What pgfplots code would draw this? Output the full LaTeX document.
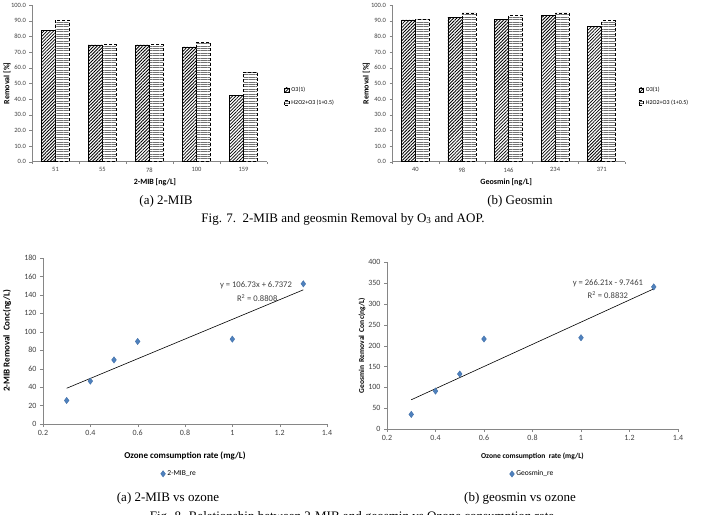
\documentclass[border=0pt]{standalone}
\usepackage{fontspec}
\setmainfont{Liberation Serif}
\newfontfamily\calfont{Carlito}
\usepackage{pgfplots}
\pgfplotsset{compat=1.18}
\usetikzlibrary{patterns.meta}

\definecolor{axisgray}{HTML}{868686}
\definecolor{ticktext}{HTML}{404040}
\definecolor{markblue}{HTML}{4F81BD}
\definecolor{markedge}{HTML}{3C6BA5}

\pgfplotsset{
  barchart/.style={
    scale only axis, width=235pt, height=156.7pt,
    axis lines=left, axis line style={axisgray,-},
    tick style={axisgray}, tick align=outside, major tick length=2.5pt,
    ymin=0, ymax=100, ytick={0,10,...,100},
    xmin=-0.5, xmax=4.5, xtick={-0.5,0.5,...,4.5},
    x tick label as interval,
    ybar=0pt, bar width=14pt,
    /pgf/number format/assume math mode=true,
    tick label style={font=\calfont\fontsize{6.5}{7}\selectfont, text=ticktext},
    yticklabel style={/pgf/number format/.cd, fixed, fixed zerofill, precision=1},
    label style={font=\calfont\bfseries\fontsize{8}{9}\selectfont},
    ylabel style={at={(axis description cs:-0.106,0.5)}, anchor=center},
    legend style={draw=none, fill=none, anchor=west,
      font=\calfont\fontsize{6}{7}\selectfont, row sep=3pt,
      legend cell align=left},
    legend image code/.code={\draw[#1] (0pt,-2.3pt) rectangle (4.6pt,2.3pt);},
  },
  othree/.style={draw=black, line width=0.5pt,
    pattern={Lines[angle=45,distance=2.3pt,line width=0.8pt]}, pattern color=black},
  aop/.style={draw=black, densely dashed, line width=0.6pt,
    pattern={Lines[angle=0,distance=2.4pt,line width=0.9pt]}, pattern color=black!55},
  scatterchart/.style={
    scale only axis,
    axis lines=left, axis line style={axisgray,-},
    tick style={axisgray}, tick align=outside, major tick length=3pt,
    xmin=0.2, xmax=1.4,
    xtick={0.2,0.4,0.6,0.8,1,1.2,1.4},
    xticklabels={0.2,0.4,0.6,0.8,1,1.2,1.4},
    /pgf/number format/assume math mode=true,
    tick label style={font=\calfont\fontsize{8}{9}\selectfont, text=ticktext},
    label style={font=\calfont\bfseries\fontsize{9}{10}\selectfont},
    legend style={draw=none, fill=none, anchor=center,
      font=\calfont\fontsize{7.5}{8}\selectfont},
  },
}

\begin{document}
\begin{tikzpicture}
\useasboundingbox (0pt,0pt) rectangle (706pt,514pt);

% ---------- (a) 2-MIB removal ----------
\begin{axis}[barchart, at={(32pt,352.3pt)}, anchor=south west,
  xticklabels={51,55,78,100,159},
  xlabel={2-MIB [ng/L]},
  xlabel style={at={(axis description cs:0.523,-0.13)}, anchor=center},
  ylabel={Removal [\%]},
  legend style={at={(1.06,0.416)}}]
\addplot[othree] coordinates {(0,84.0) (1,74.5) (2,74.5) (3,73.2) (4,42.1)};
\addplot[aop] coordinates {(0,90.4) (1,74.6) (2,74.6) (3,76.3) (4,57.3)};
\legend{O3(1), H2O2+O3 (1+0.5)}
\end{axis}

% ---------- (b) Geosmin removal ----------
\begin{axis}[barchart, at={(392pt,352.3pt)}, anchor=south west, width=233pt,
  xticklabels={40,98,146,234,371},
  xlabel={Geosmin [ng/L]},
  xlabel style={at={(axis description cs:0.49,-0.13)}, anchor=center},
  ylabel={Removal [\%]},
  ylabel style={at={(axis description cs:-0.11,0.5)}},
  legend style={at={(1.045,0.416)}}]
\addplot[othree] coordinates {(0,90.5) (1,92.3) (2,91.0) (3,93.3) (4,86.3)};
\addplot[aop] coordinates {(0,90.9) (1,95.0) (2,93.5) (3,95.0) (4,90.0)};
\legend{O3(1), H2O2+O3 (1+0.5)}
\end{axis}

% ---------- (a) 2-MIB vs ozone ----------
\begin{axis}[scatterchart, at={(43pt,90pt)}, anchor=south west,
  width=284pt, height=166pt,
  ymin=0, ymax=180, ytick={0,20,...,180},
  xlabel={Ozone comsumption rate (mg/L)},
  xlabel style={at={(axis description cs:0.5,-0.193)}, anchor=center},
  ylabel={2-MIB Removal\ \ Conc(ng/L)},
  ylabel style={at={(axis description cs:-0.127,0.5)}, anchor=center},
  legend style={at={(0.48,-0.30)}}]
\addplot[black, line width=0.6pt, forget plot] coordinates {(0.3,38.756) (1.3,145.486)};
\addplot[only marks, mark=diamond*, mark size=3.2pt,
  mark options={fill=markblue, draw=markedge, line width=0.3pt}]
  coordinates {(0.3,25.5) (0.4,46.5) (0.5,69.5) (0.6,89.5) (1.0,92.0) (1.3,152.0)};
\legend{2-MIB\_re}
\node[font=\calfont\fontsize{8.6}{9}\selectfont, text=ticktext] at (axis cs:1.10,150.7) {y = 106.73x + 6.7372};
\node[font=\calfont\fontsize{8.6}{9}\selectfont, text=ticktext] at (axis cs:1.105,136.6) {R\textsuperscript{2} = 0.8808};
\end{axis}

% ---------- (b) geosmin vs ozone ----------
\begin{axis}[scatterchart, at={(387pt,85pt)}, anchor=south west,
  width=291pt, height=166.7pt,
  ymin=0, ymax=400, ytick={0,50,...,400},
  xlabel={Ozone comsumption\ \ rate (mg/L)},
  xlabel style={at={(axis description cs:0.5,-0.165)}, anchor=center,
    font=\calfont\bfseries\fontsize{7.5}{8}\selectfont},
  ylabel={Geosmin\ \ Removal\ \ Conc(ng/L)},
  ylabel style={at={(axis description cs:-0.086,0.5)}, anchor=center,
    font=\calfont\bfseries\fontsize{7.5}{8}\selectfont},
  legend style={at={(0.5,-0.27)}}]
\addplot[black, line width=0.6pt, forget plot] coordinates {(0.3,70.117) (1.3,336.327)};
\addplot[only marks, mark=diamond*, mark size=3.2pt,
  mark options={fill=markblue, draw=markedge, line width=0.3pt}]
  coordinates {(0.3,35) (0.4,91) (0.5,132) (0.6,216) (1.0,219) (1.3,341)};
\legend{Geosmin\_re}
\node[font=\calfont\fontsize{8.6}{9}\selectfont, text=ticktext] at (axis cs:1.111,350.3) {y = 266.21x - 9.7461};
\node[font=\calfont\fontsize{8.6}{9}\selectfont, text=ticktext] at (axis cs:1.111,321.5) {R\textsuperscript{2} = 0.8832};
\end{axis}

% ---------- captions ----------
\begin{scope}[every node/.style={font=\fontsize{13}{15}\selectfont, inner sep=0pt}]
\node at (166pt,313pt) {(a) 2-MIB};
\node at (520pt,313pt) {(b) Geosmin};
\node at (343pt,295pt) {Fig. 7.\ \ 2-MIB and geosmin Removal by O\textsubscript{3} and AOP.};
\node at (168pt,16pt) {(a) 2-MIB vs ozone};
\node at (520pt,16pt) {(b) geosmin vs ozone};
\node at (352pt,-3pt) {Fig. 8. Relationship between 2-MIB and geosmin vs Ozone consumption rate};
\end{scope}
\end{tikzpicture}
\end{document}
